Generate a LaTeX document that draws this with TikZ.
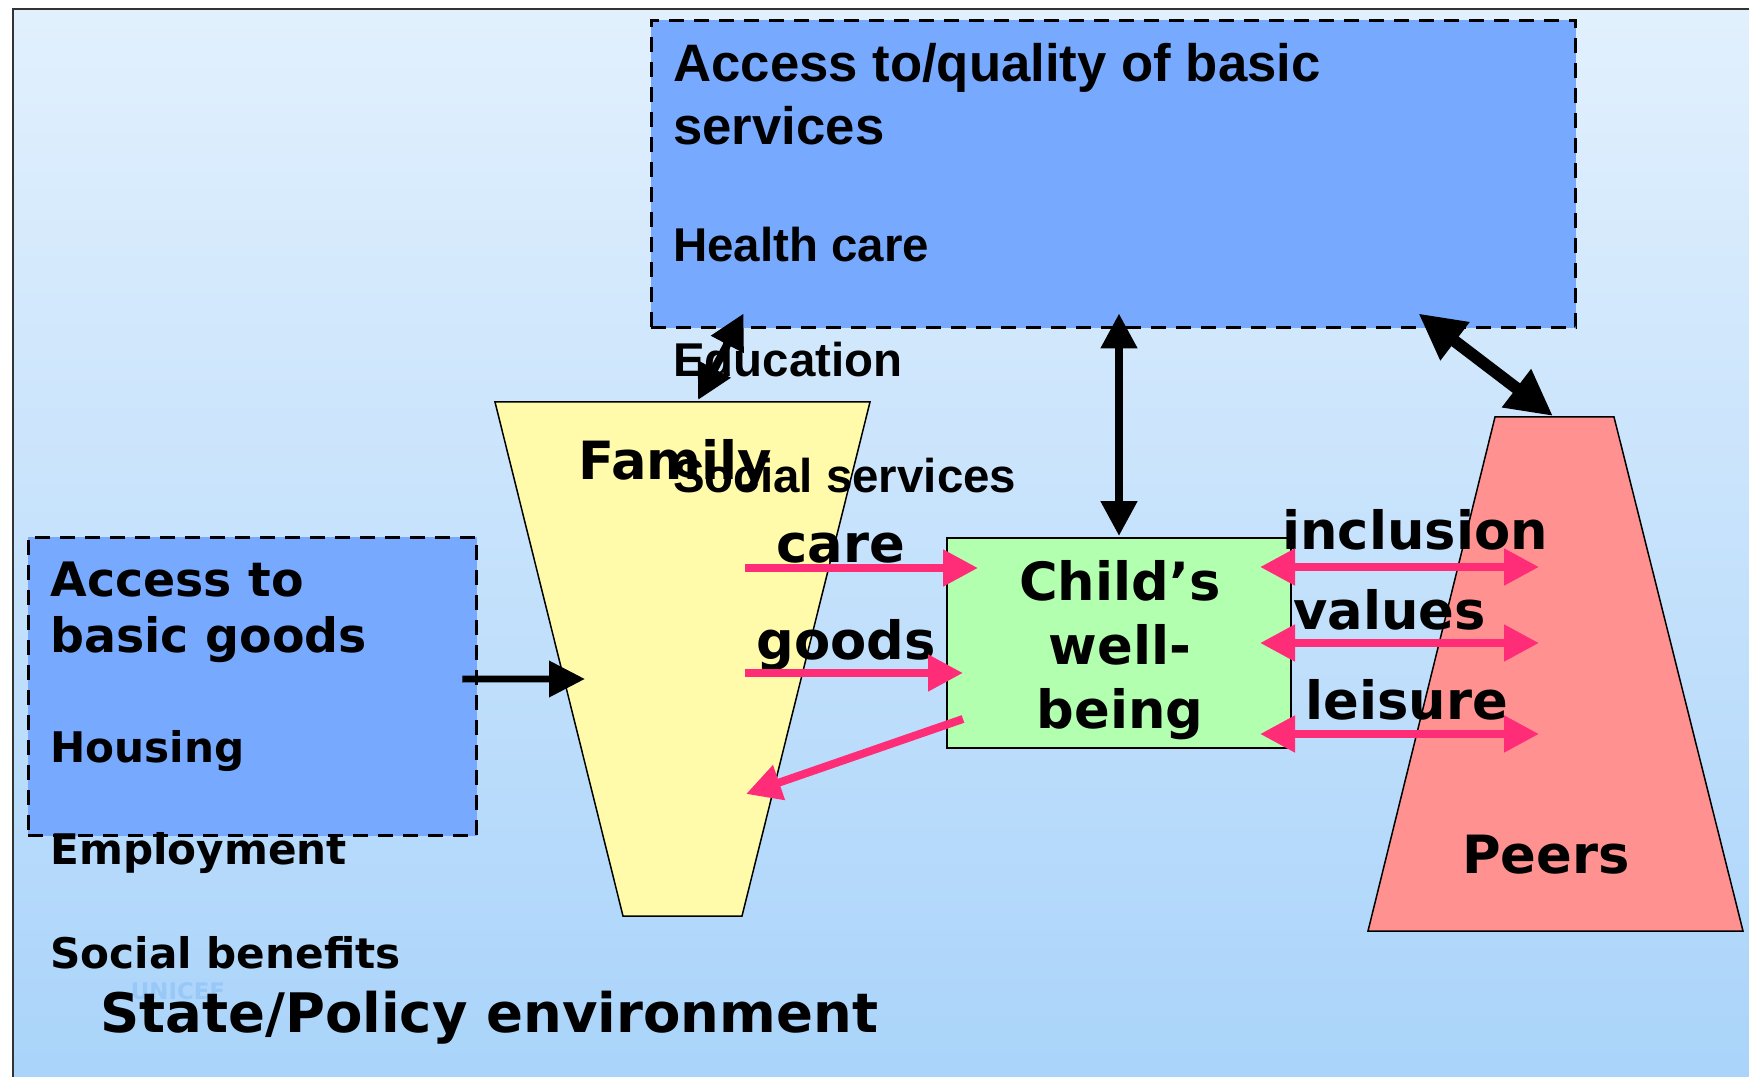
\documentclass[tikz,border=0pt]{standalone}
\usepackage{fontspec}
\setmainfont{DejaVu Sans}
\newfontfamily\servfont{Liberation Sans}
\usetikzlibrary{arrows.meta}

\definecolor{bgtop}{RGB}{226,240,253}
\definecolor{bgbot}{RGB}{168,211,250}
\definecolor{boxblue}{RGB}{119,170,255}
\definecolor{famyellow}{RGB}{255,251,170}
\definecolor{peerred}{RGB}{255,145,145}
\definecolor{kidgreen}{RGB}{179,255,176}
\definecolor{linkpink}{RGB}{255,45,120}
\definecolor{markblue}{RGB}{152,200,248}

\tikzset{
  dashbox/.style={draw,fill=boxblue,line width=0.06cm,dash pattern=on 0.3cm off 0.2cm,inner sep=0pt},
  trapline/.style={draw,line width=0.03cm,line join=miter},
  servtxt/.style={anchor=base west,inner sep=0pt,font=\servfont\bfseries\fontsize{30}{36}\selectfont},
  servitem/.style={servtxt,font=\servfont\bfseries\fontsize{27}{32}\selectfont},
  bigtxt/.style={inner sep=0pt,font=\bfseries\fontsize{30}{36.3}\selectfont},
  blk/.style={line width=0.16cm,{Triangle[length=0.7cm,width=0.7cm]}-{Triangle[length=0.7cm,width=0.7cm]}},
  pinklink/.style={draw=linkpink,line width=0.16cm,-{Triangle[length=0.7cm,width=0.7cm]}},
}

\begin{document}
\begin{tikzpicture}[x=0.02cm,y=-0.02cm]
\useasboundingbox (0,0) rectangle (1749,1077);
\fill[white] (0,0) rectangle (1749,1077);
\draw[line width=0.04cm,draw=black!80,top color=bgtop,bottom color=bgbot]
  (13,9) rectangle (1790,1110);

% boxes and shapes
\node[dashbox,minimum width=18.5cm,minimum height=6.16cm] (serv) at (1113.5,174) {};
\node[dashbox,minimum width=8.98cm,minimum height=5.98cm] (goodsbox) at (252.5,686.5) {};
\draw[trapline,fill=famyellow] (495,402) -- (870,402) -- (742,916) -- (623,916) -- cycle;
\draw[trapline,fill=peerred] (1495,417) -- (1614,417) -- (1743,931) -- (1368,931) -- cycle;
\coordinate (peertop) at (1553,416);
\node[draw,fill=kidgreen,line width=0.04cm,minimum width=6.88cm,minimum height=4.2cm,inner sep=0pt] (child) at (1119,643) {};

% basic services
\node[servtxt] (servhead) at (673,82) {Access to/quality of basic};
\node[servtxt] (servhead2) at (673,145) {services};
\foreach \txt/\yy in {Health care/262,Education/377,Social services/493}
  \node[servitem] (serv-\yy) at (673,\yy) {\txt};

% basic goods
\node[anchor=base west,inner sep=0pt,font=\bfseries\fontsize{27}{32}\selectfont] (goodshead) at (50,597) {Access to};
\node[anchor=base west,inner sep=0pt,font=\bfseries\fontsize{27}{32}\selectfont] (goodshead2) at (50,653) {basic goods};
\foreach \txt/\yy in {Housing/763,Employment/865,Social benefits/968}
  \node[anchor=base west,inner sep=0pt,font=\bfseries\fontsize{24}{29}\selectfont] (goods-\yy) at (50,\yy) {\txt};

\node[anchor=base,inner sep=0pt,text=markblue,font=\bfseries\fontsize{13}{16}\selectfont] (mark) at (178,999) {UNICEF};
\node[anchor=base west,inner sep=0pt,font=\bfseries\fontsize{31}{37}\selectfont] (state) at (100,1032) {State/Policy environment};

% labels
\node[bigtxt,anchor=base west] (famlabel) at (578,480) {Family};
\node[bigtxt,anchor=base] (peerlabel) at (1546,873) {Peers};
\node[bigtxt,align=center] (childlabel) at (1120,650) {Child’s\\well-\\being};
\node[bigtxt,anchor=base west] (carelabel) at (776,563) {care};
\node[bigtxt,anchor=base west] (goodslabel) at (756,660) {goods};
\node[bigtxt,anchor=base west] (inclabel) at (1282,550) {inclusion};
\node[bigtxt,anchor=base west] (vallabel) at (1293,630) {values};
\node[bigtxt,anchor=base west] (leilabel) at (1305,720) {leisure};

% arrow ends inside the shapes
\coordinate (famin) at (585,679);
\coordinate (famtop) at (698,400);
\coordinate (care-a) at (745,568);
\coordinate (care-b) at (978,568);
\coordinate (gds-a) at (745,673);
\coordinate (gds-b) at (963,673);
\coordinate (back-a) at (963,719);
\coordinate (back-b) at (746,794);

% black links
\draw[line width=0.14cm,-{Triangle[length=0.72cm,width=0.7cm]}]
  ([xshift=-0.32cm,yshift=0.15cm]goodsbox.east) -- (famin);
\draw[blk] (famtop) -- ([xshift=1.88cm,yshift=0.32cm]serv.south west);
\draw[blk] ([yshift=0.02cm]child.north) -- ([yshift=0.32cm]child.north |- serv.south);
\draw[line width=0.24cm,{Triangle[length=0.92cm,width=0.9cm]}-{Triangle[length=0.92cm,width=0.9cm]}]
  ([xshift=-3.18cm,yshift=0.32cm]serv.south east) -- (peertop);

% pink links
\draw[pinklink] (care-a) -- (care-b);
\draw[pinklink] (gds-a) -- (gds-b);
\draw[pinklink] (back-a) -- (back-b);
\foreach \yy in {567,643,734}
  \draw[pinklink,{Triangle[length=0.7cm,width=0.7cm]}-{Triangle[length=0.7cm,width=0.7cm]}]
    (1260,\yy) -- (1539,\yy);
\end{tikzpicture}
\end{document}
